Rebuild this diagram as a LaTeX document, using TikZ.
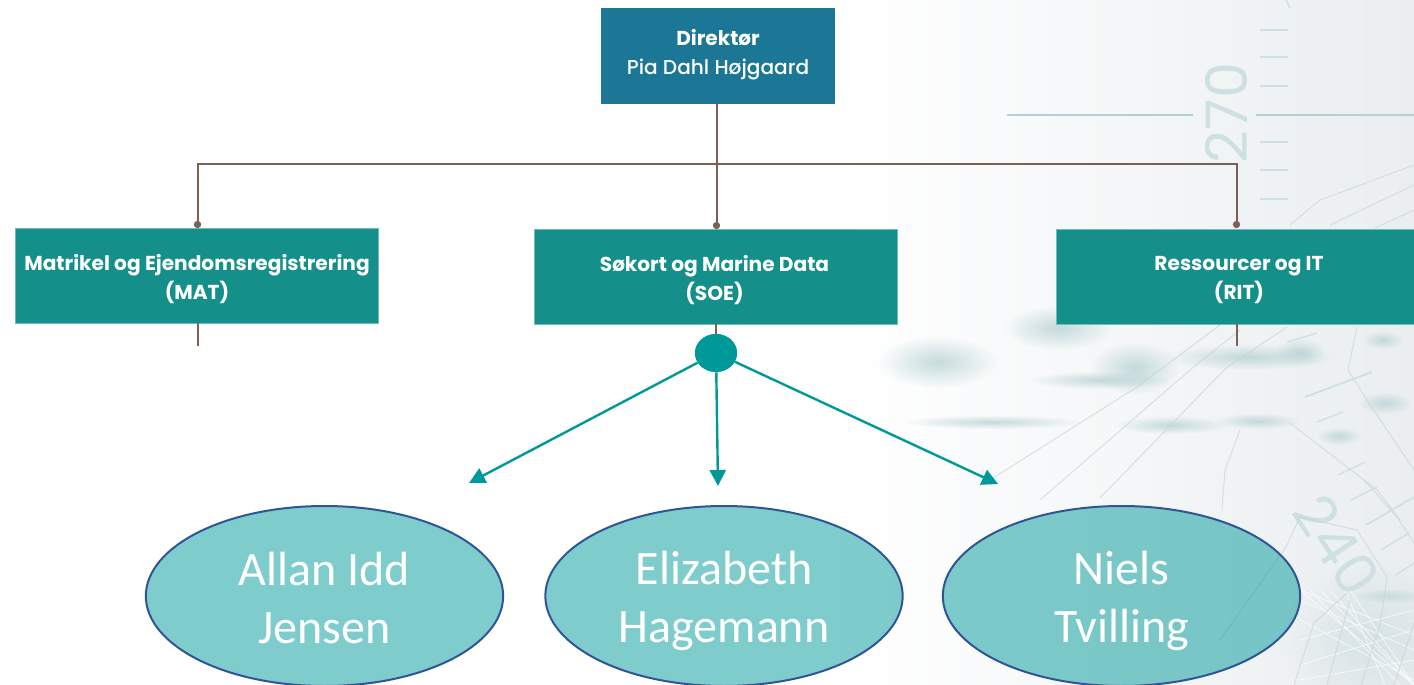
\documentclass[tikz,border=0pt]{standalone}
\usepackage{fontspec}
\setmainfont{Poppins}[BoldFont={Poppins Bold}]
\newfontfamily\ovalfont{Carlito}
\newfontfamily\popmed{Poppins Medium}
\usetikzlibrary{shapes.geometric,arrows.meta,fadings}
\tikzfading[name=softblob,inner color=transparent!0,outer color=transparent!100]
\newcommand{\ovs}{\rule[-5pt]{0pt}{38pt}}
\definecolor{topblue}{HTML}{1B7795}
\definecolor{boxteal}{HTML}{148F8A}
\definecolor{boxedge}{HTML}{6DBDB8}
\definecolor{linkbrown}{HTML}{7D5F56}
\definecolor{arrowteal}{HTML}{009999}
\definecolor{ovaledge}{HTML}{2F5597}
\definecolor{chartink}{HTML}{B4D0D2}
\definecolor{numink}{HTML}{CFE0E2}
\definecolor{chartgray}{HTML}{C6D2D4}
\definecolor{bgright}{HTML}{EAEEF0}
\tikzset{
  x=0.75pt,y=-0.75pt,
  orgbox/.style={rectangle,draw=boxedge,line width=0.4pt,fill=boxteal,text=white,align=center,inner sep=0pt},
  boxtext/.style={align=center,text=white,inner sep=0pt,font=\fontsize{15.1pt}{21.6pt}\selectfont},
  ovalbox/.style={ellipse,draw=ovaledge,line width=1.5pt,fill=arrowteal,fill opacity=0.5,text opacity=1,text=white,
    align=center,inner sep=0pt,minimum width=268pt,minimum height=135pt,
    font=\ovalfont\fontsize{36pt}{43.5pt}\selectfont},
  link/.style={draw=linkbrown,line width=1.5pt},
  enddot/.style={fill=linkbrown,circle,minimum size=5.5pt,inner sep=0pt},
  tealarrow/.style={draw=arrowteal,line width=1.8pt,-{Triangle[length=12pt,width=12pt]}},
  faint/.style={draw=chartgray,line width=0.7pt,opacity=0.65},
  tick/.style={draw=numink,line width=1pt},
  blob/.style={fill=chartink,path fading=softblob,opacity=0.75},
  chartnum/.style={text=numink,font=\fontsize{43pt}{43pt}\selectfont,inner sep=0pt}
}
\begin{document}
\begin{tikzpicture}
\useasboundingbox (0,0) rectangle (1414,685);
% background
\shade[left color=white,right color=bgright] (840,0) rectangle (1414,685);
% islands and soundings
\fill[blob] (1058,328) ellipse (55 and 22);
\fill[blob] (938,362) ellipse (60 and 26);
\fill[blob] (1100,380) ellipse (70 and 9);
\fill[blob] (1135,368) ellipse (45 and 26);
\fill[blob] (1250,357) ellipse (85 and 13);
\fill[blob] (1300,352) ellipse (25 and 14);
\fill[blob] (993,422) ellipse (90 and 7);
\fill[blob] (1172,425) ellipse (55 and 9);
\fill[blob] (1258,421) ellipse (42 and 8);
\fill[blob] (1339,436) ellipse (22 and 9);
\fill[blob] (1385,403) ellipse (26 and 11);
\fill[blob] (1383,340) ellipse (20 and 9);
\fill[blob,opacity=0.4] (1370,640) ellipse (90 and 80);
\fill[blob,opacity=0.6] (1390,596) ellipse (40 and 7);
% mesh of fine light lines in the shallows
\foreach \xa/\xb in {1300/1414,1310/1400,1330/1414,1345/1385,1320/1414,1350/1414}
  \draw[white,line width=0.5pt,opacity=0.8] (\xa,590) -- (\xb,685);
\foreach \ya/\yb in {600/650,620/680,640/610,665/630,590/635,680/660}
  \draw[white,line width=0.5pt,opacity=0.8] (1300,\ya) -- (1414,\yb);
% scale
\draw[draw=chartink,line width=1.2pt] (1007,115) -- (1193,115);
\draw[draw=chartink,line width=1.6pt] (1256,115) -- (1414,115);
\foreach \yy in {30,57,86,142,170,199} \draw[tick] (1260,\yy) -- (1288,\yy);
\draw[tick] (1286,0) -- (1290,8);
\node[chartnum,rotate=90] (deg270) at (1226,113) {270};
\node[chartnum,rotate=-57] (deg240) at (1337,545) {240};
% chart contours
\draw[faint] (1290,225) -- (1320,200) -- (1414,165);
\draw[faint] (1330,225) -- (1414,185);
\draw[faint] (1375,228) -- (1414,210);
\draw[faint] (1100,498) -- (1227,367) -- (1287,327);
\draw[faint] (1040,500) -- (1190,370) -- (1240,330);
\draw[faint] (990,480) -- (1137,387) -- (1220,325);
\draw[faint] (1222,510) -- (1225,470) -- (1240,430);
\draw[faint] (1290,423) -- (1377,490) -- (1400,520);
\draw[faint] (1357,327) -- (1348,370) -- (1367,400) -- (1414,470);
\draw[faint] (1364,480) -- (1397,517) -- (1414,543);
\draw[faint] (1220,640) -- (1286,547) -- (1300,517) -- (1357,530) -- (1387,577) -- (1380,625) -- (1361,685);
\draw[faint] (1294,685) -- (1314,623) -- (1347,593);
\draw[faint] (1327,685) -- (1350,600);
\draw[faint] (1394,685) -- (1414,623);
\draw[numink,line width=1.4pt] (1305,397) -- (1372,372);
\draw[numink,line width=1pt] (1287,342) -- (1317,333);
\draw[numink,line width=1pt] (1317,422) -- (1343,412);
\draw[numink,line width=1pt] (1338,475) -- (1365,462);
\draw[numink,line width=1pt] (1351,500) -- (1377,487);
\draw[numink,line width=1.2pt] (1366,525) -- (1414,497);
\draw[numink,line width=1pt] (1381,550) -- (1409,533);
\draw[numink,line width=1pt] (1396,575) -- (1414,563);
% boxes
\node[orgbox,fill=topblue,draw=none,minimum width=175.5pt,minimum height=72pt] (dir) at (718,56) {};
\node[boxtext] (dirtext) at (718,54.5) {\textbf{Direktør}\\{\popmed Pia Dahl Højgaard}};
\node[orgbox,minimum width=272pt,minimum height=71.25pt] (mat) at (197,275.5) {};
\node[boxtext] (mattext) at (197,279) {\textbf{Matrikel og Ejendomsregistrering}\\\textbf{(MAT)}};
\node[orgbox,minimum width=272pt,minimum height=71.25pt] (soe) at (715.5,276.5) {};
\node[boxtext] (soetext) at (714.5,280) {\textbf{Søkort og Marine Data}\\\textbf{(SOE)}};
\node[orgbox,minimum width=268.5pt,minimum height=71.25pt,anchor=west] (rit) at (1056,276.5) {};
\node[boxtext] (rittext) at (1239,280) {\textbf{Ressourcer og IT}\\\textbf{(RIT)}};
% org links
\coordinate (bus) at (716.5,164);
\coordinate (busl) at (197.5,164);
\coordinate (busr) at (1236.5,164);
\node[enddot] (dotmat) at (197.5,224.5) {};
\node[enddot] (dotsoe) at (716.5,225.5) {};
\node[enddot] (dotrit) at (1236.5,224.5) {};
\coordinate (stubmat) at (197.5,346);
\coordinate (stubrit) at (1236.5,346);
\coordinate (stubmattop) at (197.5,323);
\coordinate (stubrittop) at (1236.5,324);
\draw[link] (dir.south -| bus) -- (dotsoe);
\draw[link] (dotmat) -- (busl) -- (busr) -- (dotrit);
\draw[link] (stubmattop) -- (stubmat);
\draw[link] (stubrittop) -- (stubrit);
% junction and arrows
\node[ellipse,fill=arrowteal,minimum width=31.5pt,minimum height=28.5pt,inner sep=0pt] (hub) at (716,353) {};
\draw[link] (soe.south -| hub) -- (hub);
\coordinate (tipa) at (469,483);
\coordinate (tipb) at (718,486);
\coordinate (tipc) at (998,484);
\draw[tealarrow] (hub) -- (tipa);
\draw[tealarrow] (hub) -- (tipb);
\draw[tealarrow] (hub) -- (tipc);
\node[ellipse,fill=arrowteal,minimum width=31.5pt,minimum height=28.5pt,inner sep=0pt] (hubtop) at (716,353) {};
% ovals
\node[ovalbox] (allan) at (324.5,596) {\ovs Allan Idd\\\ovs Jensen};
\node[ovalbox] (eliz) at (724,596) {\ovs Elizabeth\\\ovs Hagemann};
\node[ovalbox] (niels) at (1121.5,596) {\ovs Niels\\\ovs Tvilling};
\end{tikzpicture}
\end{document}
